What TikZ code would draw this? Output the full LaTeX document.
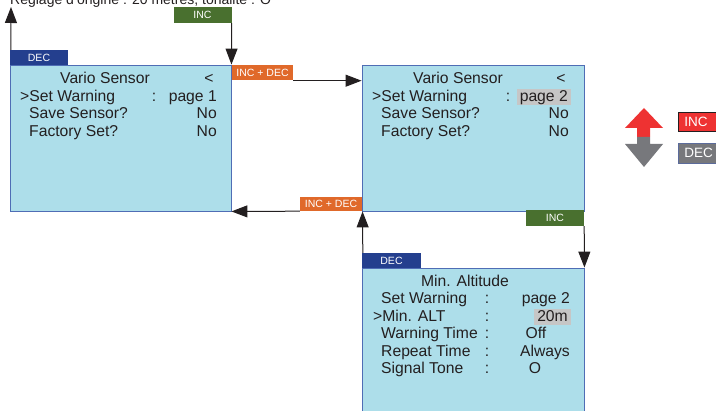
\documentclass[tikz,border=0pt]{standalone}
\usepackage{fontspec}
\setmainfont{Liberation Sans}
\usetikzlibrary{arrows.meta,calc}
\definecolor{lcd}{HTML}{ADDEEA}
\definecolor{lcdedge}{HTML}{4F6DB5}
\definecolor{decblue}{HTML}{243F8E}
\definecolor{incgreen}{HTML}{49702F}
\definecolor{bothorange}{HTML}{E0692A}
\definecolor{upred}{HTML}{EE3232}
\definecolor{downgray}{HTML}{77787C}
\definecolor{keyedge}{HTML}{5B6B9B}
\definecolor{ink}{HTML}{231F20}
\definecolor{hlgray}{HTML}{C6C6C6}

\begin{document}
\begin{tikzpicture}[x=1pt,y=-1pt,
  screen/.style={draw=lcdedge,fill=lcd,line width=0.9pt,inner sep=0pt},
  tab/.style={fill=#1,text=white,inner sep=0pt,font=\fontsize{10.5}{12}\selectfont},
  txt/.style={inner sep=0pt,text=ink,font=\fontsize{15.7}{18}\selectfont},
  hl/.style={txt,fill=hlgray,inner xsep=3pt,inner ysep=0.5pt,text height=11.5pt,text depth=3.5pt},
  key/.style={fill=#1,text=white,anchor=west,minimum height=19pt,text width=34pt,align=left,inner xsep=6pt,inner ysep=0pt,line width=0.9pt,font=\fontsize{13.5}{15}\selectfont},
  link/.style={draw=ink,line width=1pt,-{Triangle[width=12pt,length=16pt]}}]
\useasboundingbox (0,0) rectangle (716,411);

\node[txt,anchor=base west,font=\fontsize{14}{16}\selectfont] (title) at (10,5) {Réglage d'origine : 20 mètres, tonalité : O};

\node[screen,minimum width=221pt,minimum height=146pt] (s1) at (120.5,138) {};
\node[screen,minimum width=222pt,minimum height=146pt] (s2) at (473,138) {};
\node[screen,minimum width=222pt,minimum height=162pt] (s3) at (473,349) {};

\node[tab=decblue,minimum width=58pt,minimum height=15pt] (dec1) at (39,57.5) {DEC};
\node[tab=incgreen,minimum width=58pt,minimum height=16pt] (inc1) at (202.5,15) {INC};
\node[tab=bothorange,minimum width=61pt,minimum height=15.5pt] (both1) at (262.5,72.75) {INC + DEC};
\node[tab=bothorange,minimum width=62pt,minimum height=14pt] (both2) at (331,204) {INC + DEC};
\node[tab=incgreen,minimum width=58pt,minimum height=16pt] (inc2) at (555,218) {INC};
\node[tab=decblue,minimum width=59pt,minimum height=15pt] (dec3) at (391.5,260.5) {DEC};

\coordinate (up) at (11,7);
\draw[link] ([xshift=1pt]dec1.north west) -- (up);
\draw[link] (inc1.south east) -- (s1.north east);
\draw[link] (both1.south east) -- (both1.south east -| s2.west);
\draw[link] (both2.south west) -- (s1.south east);
\draw[link] (inc2.south east) -- (s3.north east);
\draw[link] ([xshift=1pt]dec3.north west) -- ([xshift=1pt]s2.south west);

\node[txt,anchor=base] (head1) at (105,84) {Vario Sensor};
\node[txt,anchor=base] (cur1) at (209,84) {<};
\node[txt,anchor=base west] (warn1) at (20,101.5) {>Set Warning};
\node[txt,anchor=base] (col1) at (154,101.5) {:};
\node[txt,anchor=base east] (page1) at (217,101.5) {page 1};
\node[txt,anchor=base west] (save1) at (29,119) {Save Sensor?};
\node[txt,anchor=base east] (no1) at (217,119) {No};
\node[txt,anchor=base west] (fact1) at (29,136.5) {Factory Set?};
\node[txt,anchor=base east] (no2) at (217,136.5) {No};

\node[txt,anchor=base] (head2) at (458,84) {Vario Sensor};
\node[txt,anchor=base] (cur2) at (561,84) {<};
\node[txt,anchor=base west] (warn2) at (372,101.5) {>Set Warning};
\node[txt,anchor=base] (col2) at (508,101.5) {:};
\node[hl,anchor=base east] (page2) at (571,101.5) {page 2};
\node[txt,anchor=base west] (save2) at (381,119) {Save Sensor?};
\node[txt,anchor=base east] (no3) at (569,119) {No};
\node[txt,anchor=base west] (fact2) at (381,136.5) {Factory Set?};
\node[txt,anchor=base east] (no4) at (569,136.5) {No};

\node[txt,anchor=base] (head3) at (465,286.5) {Min. Altitude};
\node[txt,anchor=base west] (warn3) at (381,304) {Set Warning};
\node[txt,anchor=base] (col3) at (487,304) {:};
\node[txt,anchor=base east] (page3) at (570,304) {page 2};
\node[txt,anchor=base west] (alt) at (373,321.5) {>Min. ALT};
\node[txt,anchor=base] (col4) at (487,321.5) {:};
\node[hl,anchor=base east] (altval) at (571,321.5) {20m};
\node[txt,anchor=base west] (wtime) at (381,339) {Warning Time};
\node[txt,anchor=base] (col5) at (487,339) {:};
\node[txt,anchor=base] (wval) at (536,339) {Off};
\node[txt,anchor=base west] (rtime) at (381,356.5) {Repeat Time};
\node[txt,anchor=base] (col6) at (487,356.5) {:};
\node[txt,anchor=base east] (rval) at (570,356.5) {Always};
\node[txt,anchor=base west] (tone) at (381,374) {Signal Tone};
\node[txt,anchor=base] (col7) at (487,374) {:};
\node[txt,anchor=base] (tval) at (535,374) {O};

\fill[upred] (625,128) -- (644,108) -- (663,128) -- (650,128) -- (650,137) -- (637,137) -- (637,128) -- cycle;
\fill[downgray] (637,137) -- (650,137) -- (650,144) -- (663,144) -- (644,167) -- (625,144) -- (637,144) -- cycle;
\node[key=upred,draw=ink] (keyinc) at (678,121.5) {INC};
\node[key=downgray,draw=keyedge,minimum height=20pt] (keydec) at (678,153) {DEC};
\end{tikzpicture}
\end{document}
